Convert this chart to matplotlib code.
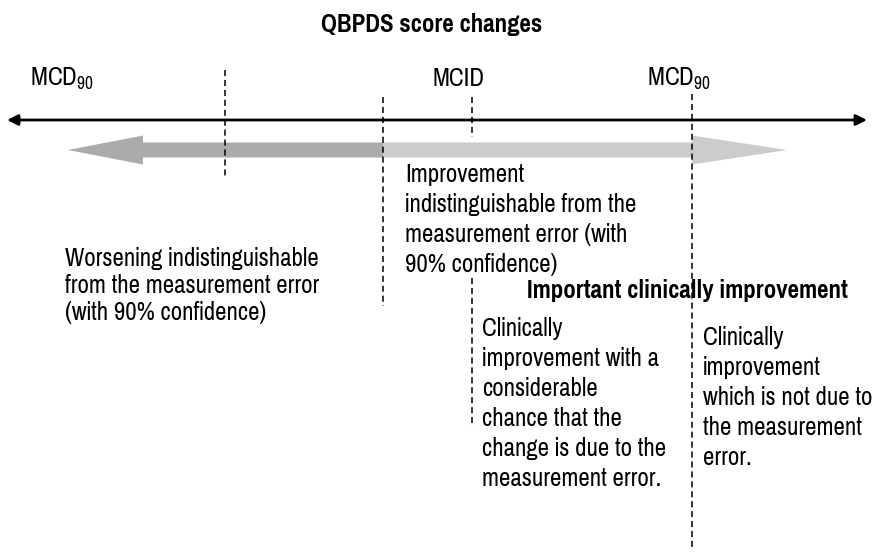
import matplotlib
matplotlib.use("Agg")
import matplotlib.pyplot as plt
from matplotlib.patches import FancyArrow

plt.rcParams['font.family'] = ['Pragati Narrow', 'PT Sans Narrow', 'Archivo Narrow',
                               'Liberation Sans', 'DejaVu Sans']
plt.rcParams['mathtext.fontset'] = 'custom'
plt.rcParams['mathtext.rm'] = 'Pragati Narrow'
plt.rcParams['mathtext.default'] = 'regular'

title = "QBPDS score changes"
marker_labels = ["MCD$_{90}$", "MCID", "MCD$_{90}$"]
marker_label_x = [30, 433, 647]

region_lines = [
    ["Worsening indistinguishable", "from the measurement error", "(with 90% confidence)"],
    ["Improvement", "indistinguishable from the", "measurement error (with", "90% confidence)"],
    ["Clinically", "improvement with a", "considerable", "chance that the",
     "change is due to the", "measurement error."],
    ["Clinically", "improvement", "which is not due to", "the measurement", "error."],
]
# (x, first baseline, line step) in pixels
region_pos = [(65, 266, 27), (405, 182, 30), (482, 336, 30), (703, 345, 30)]
header = "Important clinically improvement"

# dashed guide lines: (x, y_top, y_bottom)
guides = [(225, 70, 178), (383, 97, 306), (472, 97, 137), (472, 278, 427), (692, 94, 548)]

fig = plt.figure(figsize=(8.76, 5.55), dpi=100)
ax = fig.add_axes([0, 0, 1, 1])
ax.set_xlim(0, 876)
ax.set_ylim(555, 0)
ax.axis('off')

fs = 19.5

ax.text(432, 32, title, ha='center', va='baseline', fontsize=19.5, fontweight='bold')

for lab, x in zip(marker_labels, marker_label_x):
    ax.text(x, 86, lab, ha='left', va='baseline', fontsize=fs)

# black double arrow (score axis)
ax.annotate('', xy=(867, 120), xytext=(7, 120),
            arrowprops=dict(arrowstyle='<|-|>', lw=2, color='black',
                            mutation_scale=16, shrinkA=0, shrinkB=0))

# broad grey arrows
ax.add_patch(FancyArrow(383, 150, -315, 0, width=15, head_width=29, head_length=75,
                        length_includes_head=True, color='#ababab', lw=0))
ax.add_patch(FancyArrow(383, 150, 404, 0, width=15, head_width=29, head_length=95,
                        length_includes_head=True, color='#cccccc', lw=0))

for x, y0, y1 in guides:
    ax.plot([x, x], [y0, y1], color='black', lw=1.1, linestyle=(0, (4, 2.5)))

for lines, (x, y, step) in zip(region_lines, region_pos):
    for i, line in enumerate(lines):
        ax.text(x, y + i * step, line, ha='left', va='baseline', fontsize=fs)

ax.text(527, 298, header, ha='left', va='baseline', fontsize=19.5, fontweight='bold')

fig.savefig('out.png', dpi=100)
